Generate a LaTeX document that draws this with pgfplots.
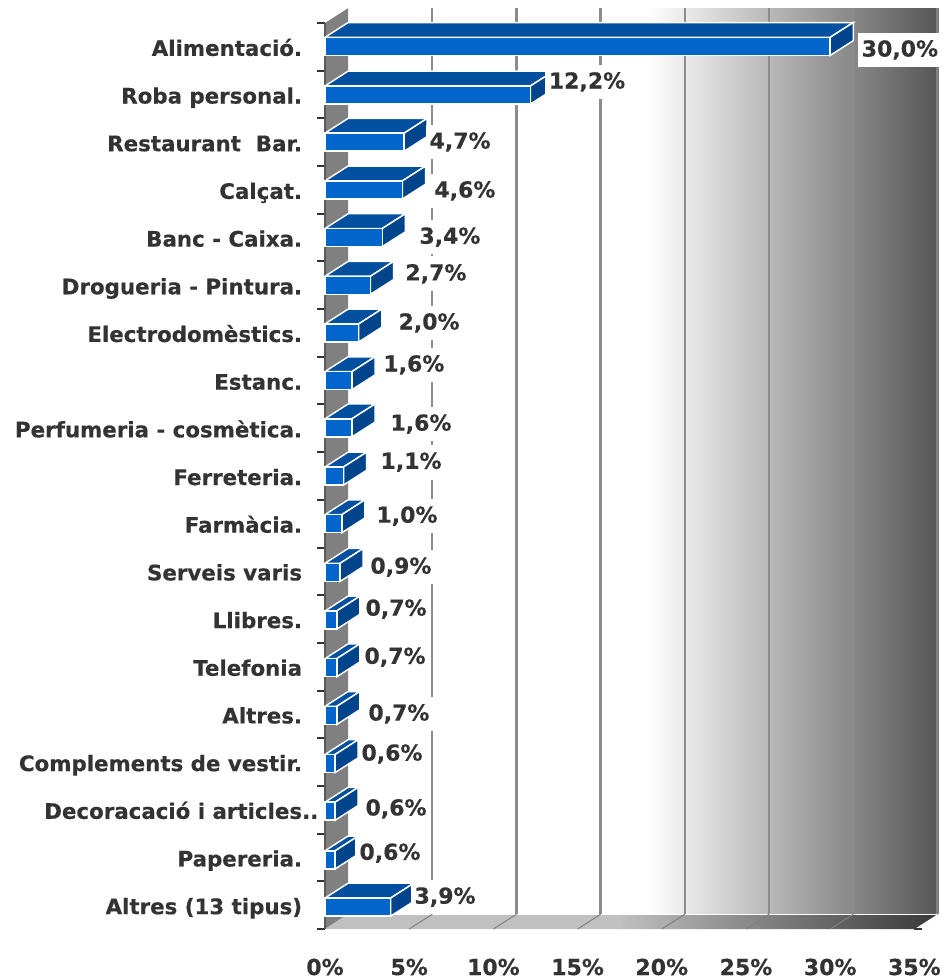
\documentclass[border=0pt]{standalone}
\usepackage{fontspec}
\setmainfont{DejaVu Sans}[BoldFeatures={FakeBold=0.4}]
\usepackage{pgfplots}
\usepackage{pgfplotstable}
\pgfplotsset{compat=1.18}
\definecolor{frontc}{HTML}{0066CC}
\definecolor{topc}{HTML}{00509F}
\definecolor{sidec}{HTML}{00458C}
\definecolor{txtc}{HTML}{333333}
\definecolor{grid}{HTML}{8C8C8C}
\definecolor{wallc}{HTML}{808080}
\definecolor{floorA}{HTML}{C0C0C0}
\definecolor{floorB}{HTML}{383838}
\pgfdeclarehorizontalshading{floorsh}{100bp}{color(0bp)=(floorA);color(25bp)=(floorA);color(49bp)=(floorA);color(75bp)=(floorB);color(100bp)=(floorB)}
\pgfplotstableread{
y v
0.49 30.0
1.51 12.2
2.50 4.7
3.50 4.6
4.50 3.4
5.50 2.7
6.50 2.0
7.50 1.6
8.49 1.6
9.50 1.1
10.50 1.0
11.52 0.9
12.52 0.7
13.52 0.7
14.52 0.7
15.53 0.6
16.53 0.6
17.55 0.6
18.54 3.9
}\bars
\pgfplotstableread{
x y v
34.14 0.565 30.0
15.56 1.236 12.2
8.02 2.495 4.7
8.31 3.52 4.6
7.42 4.49 3.4
6.59 5.26 2.7
6.18 6.29 2.0
5.28 7.17 1.6
5.70 8.41 1.6
5.11 9.21 1.1
4.87 10.34 1.0
4.51 11.41 0.9
4.22 12.29 0.7
4.16 13.30 0.7
4.39 14.49 0.7
3.98 15.33 0.6
4.22 16.48 0.6
3.86 17.41 0.6
7.13 18.33 3.9
}\labels
\newcommand\barfaces[2]{%
  \addplot[fill=topc,draw=white,line width=1.1pt] coordinates {(0,#2-0.19) (1.37,#2-0.5) (#1+1.37,#2-0.5) (#1,#2-0.19)} -- cycle;
  \addplot[fill=sidec,draw=white,line width=1.1pt] coordinates {(#1,#2-0.19) (#1+1.37,#2-0.5) (#1+1.37,#2-0.12) (#1,#2+0.19)} -- cycle;
}
\newcommand\gl[2]{%
  \draw[grid,line width=1.8pt] (axis cs:#1,-0.31) -- (axis cs:#1,18.69);
  \draw[wallc,line width=0.75pt] (axis cs:#1,18.69) -- (axis cs:#2,19);
}
\begin{document}
\begin{tikzpicture}
\path[use as bounding box,fill=white] (0,0) rectangle (708pt,734.25pt);
\begin{axis}[
  at={(243.75pt,37.5pt)},anchor=south west,
  scale only axis,width=442.05pt,height=679.5pt,
  xmin=0,xmax=35,ymin=0,ymax=19,y dir=reverse,clip=false,
  axis line style={draw=none},
  xtick={0,5,...,35},
  xticklabels={0\%,5\%,10\%,15\%,20\%,25\%,30\%,35\%},
  xticklabel pos=lower,
  x tick style={draw=none},
  ytick={0.5,1.5,...,18.5},
  yticklabels={Alimentació.,Roba personal.,Restaurant\ \ Bar.,Calçat.,Banc - Caixa.,Drogueria - Pintura.,Electrodomèstics.,Estanc.,Perfumeria - cosmètica.,Ferreteria.,Farmàcia.,Serveis varis,Llibres.,Telefonia,Altres.,Complements de vestir.,Decoracació i articles\rlap{..},Papereria.,Altres (13 tipus)},
  minor ytick={0,1,...,19},
  major tick length=0pt,
  minor tick length=6pt,
  tick align=outside,
  y tick style={draw=none},
  minor y tick style={draw=txtc,line width=1.5pt},
  xticklabel style={font=\fontsize{16.5}{18}\selectfont\bfseries,text=txtc,anchor=center,yshift=-28.5pt,inner sep=0pt},
  yticklabel style={font=\fontsize{16}{18}\selectfont\bfseries,text=txtc,anchor=east,inner sep=0pt,xshift=-17pt,yshift=-2.25pt,text height=12pt,text depth=3pt},
  /pgf/number format/assume math mode=true,
]
% walls
\fill[wallc] (axis cs:0,0) -- (axis cs:1.37,-0.31) -- (axis cs:1.37,18.69) -- (axis cs:0,19) -- cycle;
\fill[left color=white,right color=black!66] (axis cs:19.12,-0.31) rectangle (axis cs:36.37,18.69);
% floor
\path[shading=floorsh] (axis cs:0,19) -- (axis cs:1.37,18.69) -- (axis cs:36.37,18.69) -- (axis cs:35,19) -- cycle;
\draw[white,line width=0.75pt] (axis cs:1.37,18.69) -- (axis cs:36.37,18.69);
\gl{6.37}{5}\gl{11.37}{10}\gl{16.37}{15}\gl{21.37}{20}\gl{26.37}{25}\gl{31.37}{30}
\draw[wallc,line width=1.8pt] (axis cs:36.37,-0.31) -- (axis cs:36.37,18.69);
% y axis line
\draw[black!65,line width=1.1pt] (axis cs:0,0) -- (axis cs:0,19);
% bars
\barfaces{30.0}{0.49}
\barfaces{12.2}{1.51}
\barfaces{4.7}{2.50}
\barfaces{4.6}{3.50}
\barfaces{3.4}{4.50}
\barfaces{2.7}{5.50}
\barfaces{2.0}{6.50}
\barfaces{1.6}{7.50}
\barfaces{1.6}{8.49}
\barfaces{1.1}{9.50}
\barfaces{1.0}{10.50}
\barfaces{0.9}{11.52}
\barfaces{0.7}{12.52}
\barfaces{0.7}{13.52}
\barfaces{0.7}{14.52}
\barfaces{0.6}{15.53}
\barfaces{0.6}{16.53}
\barfaces{0.6}{17.55}
\barfaces{3.9}{18.54}
\addplot[xbar,bar width=13.5pt,bar shift=0pt,fill=frontc,draw=white,line width=1.1pt] table[x=v,y=y] {\bars};
% labels
\addplot[only marks,mark=*,mark size=0pt,draw=none,fill=none,
  point meta=\thisrow{v},
  nodes near coords={\pgfmathprintnumber[fixed,fixed zerofill,precision=1,use comma,assume math mode=true]{\pgfplotspointmeta}\%},
  every node near coord/.append style={anchor=center,fill=white,text=txtc,inner xsep=3pt,inner ysep=0pt,minimum height=26pt,font=\fontsize{16.5}{18}\selectfont\bfseries}
] table[x=x,y=y] {\labels};
\end{axis}
\end{tikzpicture}
\end{document}
